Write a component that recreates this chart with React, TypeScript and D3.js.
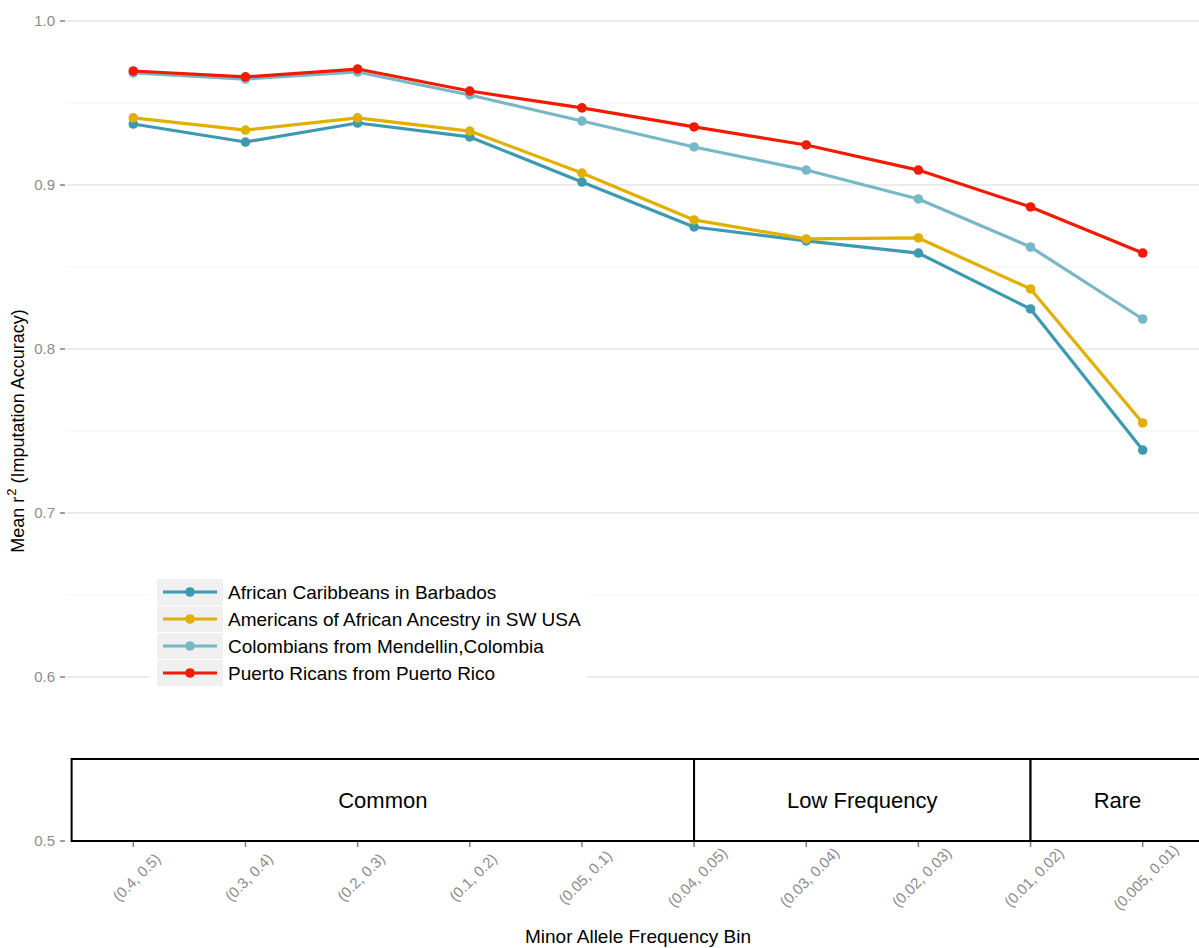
import React from "react";
import * as d3 from "d3";

const bins = ["(0.4, 0.5)", "(0.3, 0.4)", "(0.2, 0.3)", "(0.1, 0.2)", "(0.05, 0.1)", "(0.04, 0.05)", "(0.03, 0.04)", "(0.02, 0.03)", "(0.01, 0.02)", "(0.005, 0.01)"];
const seriesNames = ["African Caribbeans in Barbados", "Americans of African Ancestry in SW USA", "Colombians from Mendellin,Colombia", "Puerto Ricans from Puerto Rico"];
const seriesColors = ["#3B9AB2", "#E1AF00", "#78B7C5", "#F21A00"];
const acb = [0.9372, 0.9262, 0.9378, 0.9293, 0.9018, 0.8744, 0.8659, 0.8585, 0.8244, 0.7384];
const asw = [0.9409, 0.9335, 0.9409, 0.9329, 0.9073, 0.8787, 0.8671, 0.8677, 0.8366, 0.7549];
const clm = [0.9683, 0.9646, 0.9689, 0.9549, 0.9390, 0.9232, 0.9091, 0.8915, 0.8622, 0.8183];
const pur = [0.9695, 0.9659, 0.9707, 0.9573, 0.9470, 0.9354, 0.9244, 0.9091, 0.8866, 0.8585];
const seriesValues = [acb, asw, clm, pur];
const yTicks = [0.5, 0.6, 0.7, 0.8, 0.9, 1.0];
const yMinor = [0.55, 0.65, 0.75, 0.85, 0.95];
const groups = [
  { label: "Common", from: 0.45, to: 6 },
  { label: "Low Frequency", from: 6, to: 9 },
  { label: "Rare", from: 9, to: 10.55 },
];
const boxTop = 0.55;

export default function App() {
  const W = 1199, H = 948;
  const left = 66, right = 1210, top = 0, bottom = 841;
  const x = d3.scaleLinear().domain([0.4, 10.6]).range([left, right]);
  const y = d3.scaleLinear().domain([0.5, 1.0128]).range([bottom, top]);
  const line = d3.line<number>().x((_, i) => x(i + 1)).y((d) => y(d));
  const font = "'Liberation Sans', Arial, Helvetica, sans-serif";
  const legX = 157, legY = 579, rowH = 27;
  return (
    <svg width={W} height={H} style={{ position: "absolute", left: 0, top: 0, fontFamily: font }}>
      <rect width={W} height={H} fill="#fff" />
      {yMinor.map((t) => (
        <line key={"mi" + t} x1={left} x2={right} y1={y(t)} y2={y(t)} stroke="#f3f3f3" strokeWidth={1} />
      ))}
      {yTicks.filter((t) => t > 0.5).map((t) => (
        <line key={"ma" + t} x1={left} x2={right} y1={y(t)} y2={y(t)} stroke="#e6e6e6" strokeWidth={1.5} />
      ))}
      {yTicks.map((t) => (
        <g key={"yt" + t}>
          <line x1={left - 6} x2={left - 1} y1={y(t)} y2={y(t)} stroke="#7f7f7f" strokeWidth={1.5} />
          <text x={left - 11} y={y(t)} dy="0.35em" textAnchor="end" fontSize={15} fill="#8c8c8c">{t.toFixed(1)}</text>
        </g>
      ))}
      {seriesValues.map((vals, si) => (
        <g key={"s" + si}>
          <path d={line(vals) || ""} fill="none" stroke={seriesColors[si]} strokeWidth={3.2} strokeLinejoin="round" />
          {vals.map((v, i) => (
            <circle key={i} cx={x(i + 1)} cy={y(v)} r={4.8} fill={seriesColors[si]} />
          ))}
        </g>
      ))}
      {groups.map((g) => (
        <g key={g.label}>
          <rect x={x(g.from)} y={y(boxTop)} width={x(g.to) - x(g.from)} height={y(0.5) - y(boxTop)} fill="#fff" stroke="#000" strokeWidth={2} />
          <text x={(x(g.from) + x(g.to)) / 2} y={(y(boxTop) + y(0.5)) / 2} dy="0.35em" textAnchor="middle" fontSize={22} fill="#000">{g.label}</text>
        </g>
      ))}
      {bins.map((b, i) => (
        <g key={b}>
          <line x1={x(i + 1)} x2={x(i + 1)} y1={bottom + 1} y2={bottom + 6} stroke="#7f7f7f" strokeWidth={1.5} />
          <text transform={`translate(${x(i + 1) + 7},${bottom + 40}) rotate(-45)`} textAnchor="middle" fontSize={15} fill="#8c8c8c">{b}</text>
        </g>
      ))}
      <text x={(left + right) / 2} y={943} textAnchor="middle" fontSize={19} fill="#000">Minor Allele Frequency Bin</text>
      <text transform={`translate(24,431) rotate(-90)`} textAnchor="middle" fontSize={18} fill="#000">
        Mean r<tspan dx={1} dy={-8} fontSize={13}>2</tspan><tspan dy={8}> (Imputation Accuracy)</tspan>
      </text>
      <rect x={150} y={legY - 4} width={437} height={rowH * 4 + 8} fill="#fff" />
      {seriesNames.map((n, i) => (
        <g key={n}>
          <rect x={legX} y={legY + i * rowH} width={66} height={rowH - 1} fill="#f0f0f0" />
          <line x1={legX + 6} x2={legX + 60} y1={legY + i * rowH + 13} y2={legY + i * rowH + 13} stroke={seriesColors[i]} strokeWidth={3.2} />
          <circle cx={legX + 33} cy={legY + i * rowH + 13} r={4.8} fill={seriesColors[i]} />
          <text x={228} y={legY + i * rowH + 13} dy="0.35em" fontSize={19} fill="#000">{n}</text>
        </g>
      ))}
    </svg>
  );
}
